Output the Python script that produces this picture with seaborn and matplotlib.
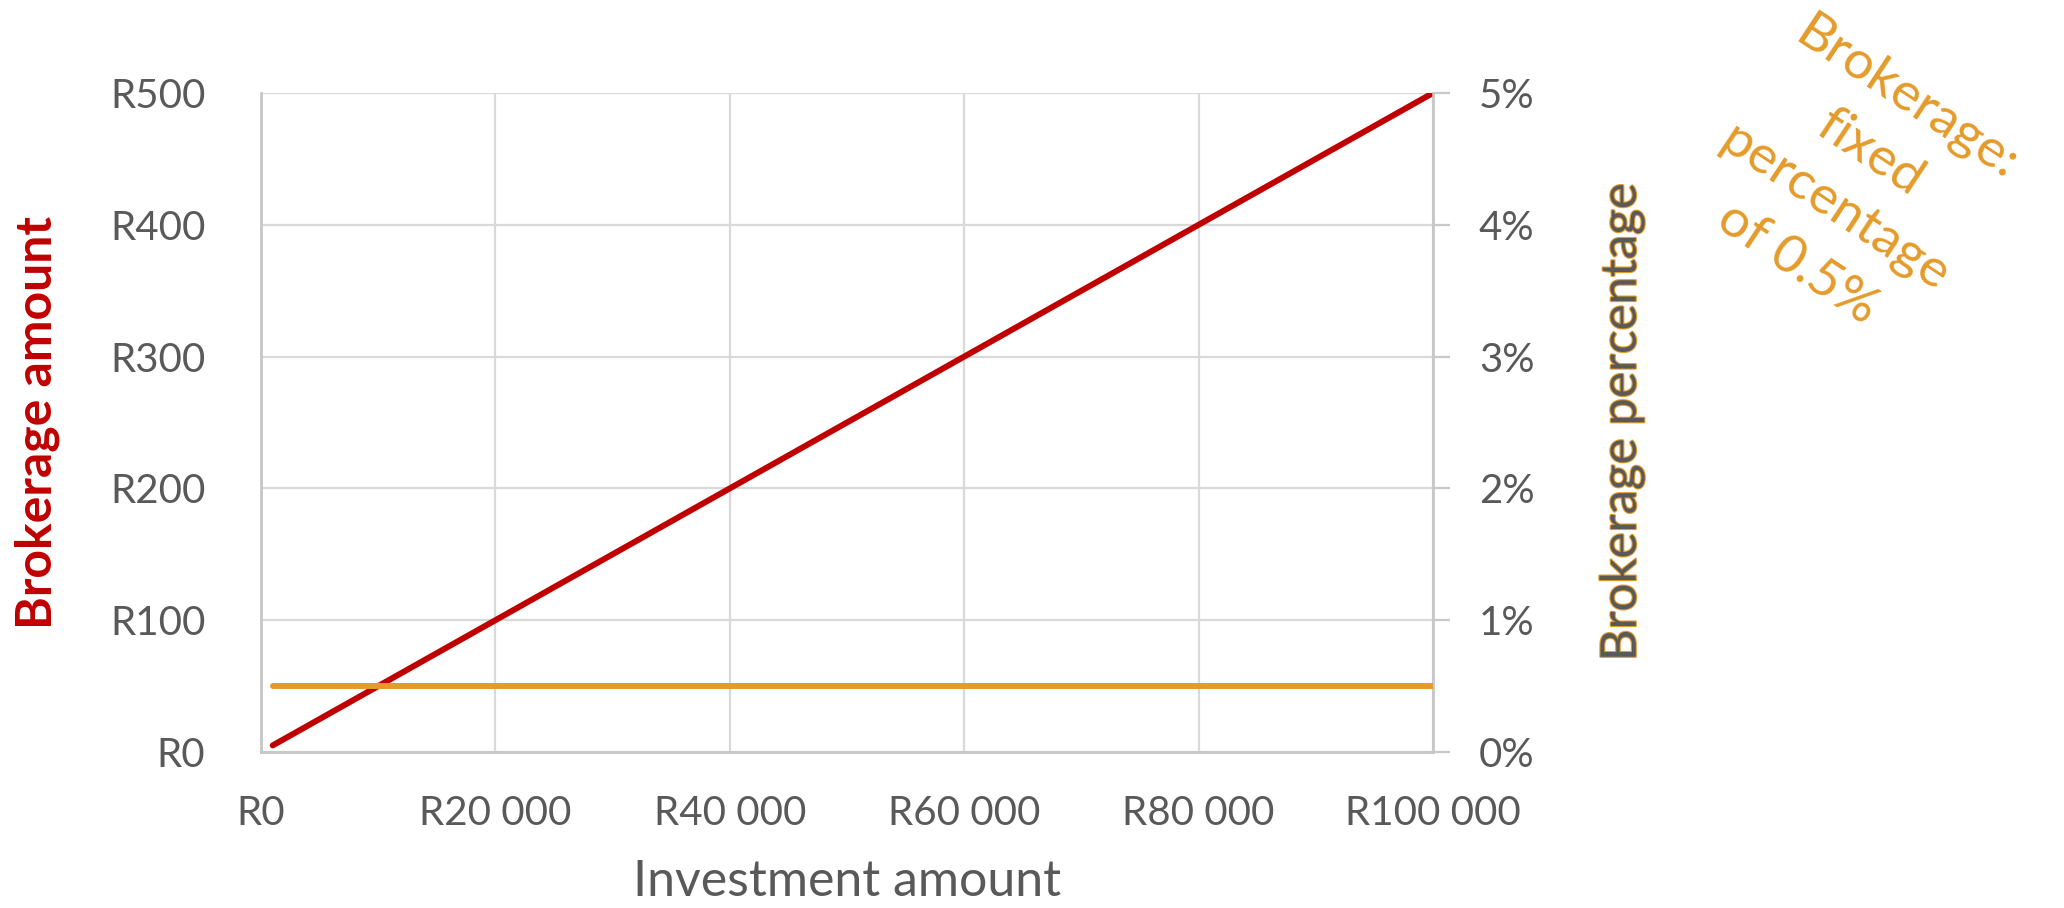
import matplotlib
matplotlib.use("Agg")
import matplotlib.pyplot as plt
import matplotlib.patheffects as pe
import seaborn as sns
import pandas as pd

# ---- data ----
investment = [1000, 10000, 20000, 30000, 40000, 50000, 60000, 70000, 80000, 90000, 100000]
brokerage_amount = [5, 50, 100, 150, 200, 250, 300, 350, 400, 450, 500]
brokerage_pct = [0.5, 0.5, 0.5, 0.5, 0.5, 0.5, 0.5, 0.5, 0.5, 0.5, 0.5]

x_ticks = [0, 20000, 40000, 60000, 80000, 100000]
x_tick_labels = ["R0", "R20 000", "R40 000", "R60 000", "R80 000", "R100 000"]
y_ticks = [0, 100, 200, 300, 400, 500]
y_tick_labels = ["R0", "R100", "R200", "R300", "R400", "R500"]
y2_ticks = [0, 1, 2, 3, 4, 5]
y2_tick_labels = ["0%", "1%", "2%", "3%", "4%", "5%"]

df = pd.DataFrame({"investment": investment,
                   "amount": brokerage_amount,
                   "pct": brokerage_pct})

RED = "#C00000"
ORANGE = "#E49B2A"
GRAY_TXT = "#595959"
GRID = "#D9D9D9"

sns.set_theme(style="white")
plt.rcParams["font.family"] = ["Lato", "DejaVu Sans"]

fig = plt.figure(figsize=(20.64, 9.08), dpi=100)
W, H = 2064, 908
L, R, T, B = 261, 1433, 93, 752
ax = fig.add_axes([L / W, 1 - B / H, (R - L) / W, (B - T) / H])
ax2 = ax.twinx()

sns.lineplot(data=df, x="investment", y="amount", ax=ax, color=RED,
             linewidth=4.3, solid_capstyle="round", zorder=3)
sns.lineplot(data=df, x="investment", y="pct", ax=ax2, color=ORANGE,
             linewidth=4.3, solid_capstyle="round", zorder=3)

ax.set_xlim(0, 100000)
ax.set_ylim(0, 500)
ax2.set_ylim(0, 5)

ax.set_xticks(x_ticks)
ax.set_xticklabels(x_tick_labels)
ax.set_yticks(y_ticks)
ax.set_yticklabels(y_tick_labels)
ax2.set_yticks(y2_ticks)
ax2.set_yticklabels(y2_tick_labels)

ax.grid(True, color=GRID, linewidth=1.6)
ax.set_axisbelow(True)

for a in (ax, ax2):
    a.spines["top"].set_visible(False)
    for s in ("left", "bottom", "right"):
        a.spines[s].set_color("#C8C8C8")
        a.spines[s].set_linewidth(1.8)

TS = 29
ax.tick_params(axis="y", length=0, pad=40, labelsize=TS, labelcolor=GRAY_TXT)
ax.tick_params(axis="x", length=0, pad=31, labelsize=TS, labelcolor=GRAY_TXT)
ax2.tick_params(axis="y", length=12, width=1.6, color="#C8C8C8", direction="out",
                pad=21, labelsize=TS, labelcolor=GRAY_TXT)

ax.set_xlabel("Investment amount", fontsize=36, color=GRAY_TXT, va="center")
ax.xaxis.set_label_coords(0.5, (B - 882) / (B - T))

ax.set_ylabel("Brokerage amount", fontsize=36, color=RED, fontweight="bold",
              va="center", ha="center")
ax.yaxis.set_label_coords((37 - L) / (R - L), 0.5)

ylab2 = ax2.set_ylabel("Brokerage percentage", fontsize=35.5, color=GRAY_TXT,
                       va="center", ha="center", rotation=90)
ax2.yaxis.set_label_coords((1622 - L) / (R - L), 0.5)
ylab2.set_path_effects([pe.Stroke(linewidth=1.6, foreground=ORANGE), pe.Normal()])

fig.text(1852 / W, 1 - 181 / H, "Brokerage:\nfixed\npercentage\nof 0.5%",
         fontsize=38.5, color=ORANGE, rotation=-33.5, rotation_mode="anchor",
         ha="center", va="center", multialignment="center", linespacing=1.5)

fig.savefig("out.png", dpi=100)
